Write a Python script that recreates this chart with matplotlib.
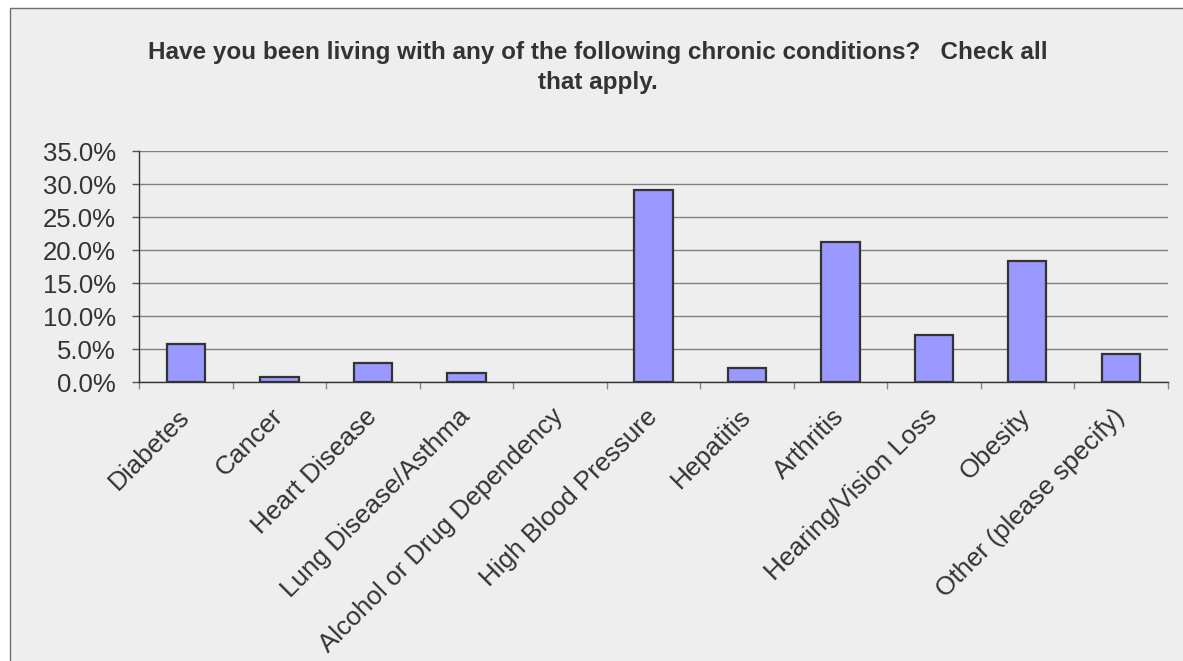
import matplotlib
matplotlib.use("Agg")
import matplotlib.pyplot as plt
from matplotlib.patches import Rectangle
from matplotlib.ticker import FuncFormatter, FixedLocator
import numpy as np

categories = ["Diabetes", "Cancer", "Heart Disease", "Lung Disease/Asthma",
              "Alcohol or Drug Dependency", "High Blood Pressure", "Hepatitis",
              "Arthritis", "Hearing/Vision Loss", "Obesity", "Other (please specify)"]
values = [5.8, 0.8, 2.9, 1.4, 0.0, 29.1, 2.1, 21.3, 7.2, 18.4, 4.3]
yticks = [0, 5, 10, 15, 20, 25, 30, 35]
title_line1 = "Have you been living with any of the following chronic conditions?   Check all"
title_line2 = "that apply."

W, H = 1183, 661
plt.rcParams['font.family'] = ['Liberation Sans', 'DejaVu Sans']
fig = plt.figure(figsize=(W / 100, H / 100), dpi=100)
fig.patch.set_facecolor('white')

# outer chart frame
frame = Rectangle((10 / W, -0.05), 1.1, 1.05 - 8 / H, transform=fig.transFigure,
                  facecolor='#EEEEEE', edgecolor='#707070', linewidth=1.0, zorder=-5)
fig.patches.append(frame)

ax = fig.add_axes([139.3 / W, 1 - 382.3 / H, (1167.5 - 139.3) / W, (382.3 - 151.3) / H])
ax.set_zorder(2)
ax.set_facecolor('none')

x = np.arange(len(categories))
edge_widths = [1.6 if v > 0 else 0 for v in values]
ax.bar(x, values, width=0.41, color='#9999FF', edgecolor='#333333',
       linewidth=edge_widths, zorder=3)

ax.set_xlim(-0.5, len(categories) - 0.5)
ax.set_ylim(0, 35)
ax.yaxis.set_major_locator(FixedLocator(yticks))
ax.yaxis.set_major_formatter(FuncFormatter(lambda v, p: f"{v:.1f}%"))
ax.grid(axis='y', color='#808080', linewidth=1.0, zorder=1)
ax.set_axisbelow(True)

for s in ['top', 'right']:
    ax.spines[s].set_visible(False)
for s in ['left', 'bottom']:
    ax.spines[s].set_color('#333333')
    ax.spines[s].set_linewidth(1.0)

ax.tick_params(axis='y', length=5, width=1, color='#555555', pad=12, labelsize=18.5, labelcolor='#333333')
# category boundary ticks
ax.set_xticks(np.arange(-0.5, len(categories), 1.0))
ax.set_xticklabels([])
ax.tick_params(axis='x', length=5, width=1, color='#888888')
ax.set_xticks(x, minor=True)
ax.set_xticklabels(categories, minor=True, rotation=45, ha='right', va='center',
                   rotation_mode='anchor', fontsize=18.8, color='#333333')
ax.tick_params(axis='x', which='minor', length=0, pad=22)

fig.text(598 / W, 1 - 59.3 / H, title_line1, ha='center', va='baseline',
         fontsize=17.5, fontweight='bold', color='#333333')
fig.text(598 / W, 1 - 89.3 / H, title_line2, ha='center', va='baseline',
         fontsize=17.5, fontweight='bold', color='#333333')

fig.savefig("out.png", dpi=100, facecolor=fig.get_facecolor())
